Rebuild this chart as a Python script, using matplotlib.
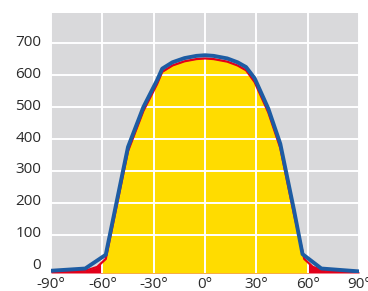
import numpy as np
import matplotlib.pyplot as plt
import matplotlib.transforms as mtransforms
from matplotlib.patches import Rectangle

# light distribution curve, two planes
blue_deg = [-90, -70, -58, -48, -45, -36, -28, -25, -19, -12, -5, 0, 5, 13, 19, 24, 29, 37, 44, 52, 57, 68, 90]
blue_val = [-12, -5, 38, 298, 375, 500, 584, 620, 640, 653, 660, 662, 660, 652, 640, 625, 590, 495, 385, 178, 40, -5, -14]

red_deg = [-90, -70, -63, -58, -48, -45, -36, -28, -25, -19, -12, -5, 0, 5, 13, 19, 24, 29, 37, 44, 52, 58, 63, 70, 90]
red_val = [-14, -12, 0, 25, 285, 362, 488, 572, 610, 630, 643, 650, 652, 650, 642, 630, 615, 578, 483, 372, 165, 25, 0, -12, -15]

x_ticks = [-90, -60, -30, 0, 30, 60, 90]
x_labels = ['-90°', '-60°', '-30°', '0°', '30°', '60°', '90°']
y_ticks = [0, 100, 200, 300, 400, 500, 600, 700]

plt.rcParams['font.family'] = ['Open Sans', 'DejaVu Sans']

fig = plt.figure(figsize=(3.68, 2.91), dpi=100)
ax = fig.add_axes([51/368, 18/291, 308/368, 260.3/291])
ax.set_facecolor('#d9d9db')

ymin = -19
ax.fill_between(red_deg, red_val, ymin, color='#e2001a', lw=0, zorder=1)
yel = ax.fill_between(red_deg, red_val, ymin, color='#ffdc00', lw=0, zorder=1.1)
# yellow only between -60 and 60, outside that the red shows
clip = Rectangle((-60, ymin), 120, 900, transform=ax.transData)
yel.set_clip_path(clip)

ax.plot(red_deg, red_val, color='#e2001a', lw=1.6, zorder=3)
ax.plot(blue_deg, blue_val, color='#1d5ca3', lw=2.8, zorder=3.1, solid_joinstyle='round')

ax.set_xlim(-90, 90)
ax.set_ylim(ymin, 795)
ax.set_xticks(x_ticks)
ax.set_xticklabels(x_labels)
ax.set_yticks(y_ticks)
ax.set_axisbelow(False)
ax.grid(True, color='white', lw=1.4)
ax.yaxis.get_gridlines()[0].set_visible(False)
ax.tick_params(length=0, labelsize=11, labelcolor='#2b2b2b')
ax.tick_params(axis='y', pad=7)
ax.tick_params(axis='x', pad=3)
off = mtransforms.ScaledTranslation(0, 3/100, fig.dpi_scale_trans)
for lab in ax.get_yticklabels():
    lab.set_transform(lab.get_transform() + off)
for s in ax.spines.values():
    s.set_visible(False)

fig.savefig('out.png', dpi=100)
